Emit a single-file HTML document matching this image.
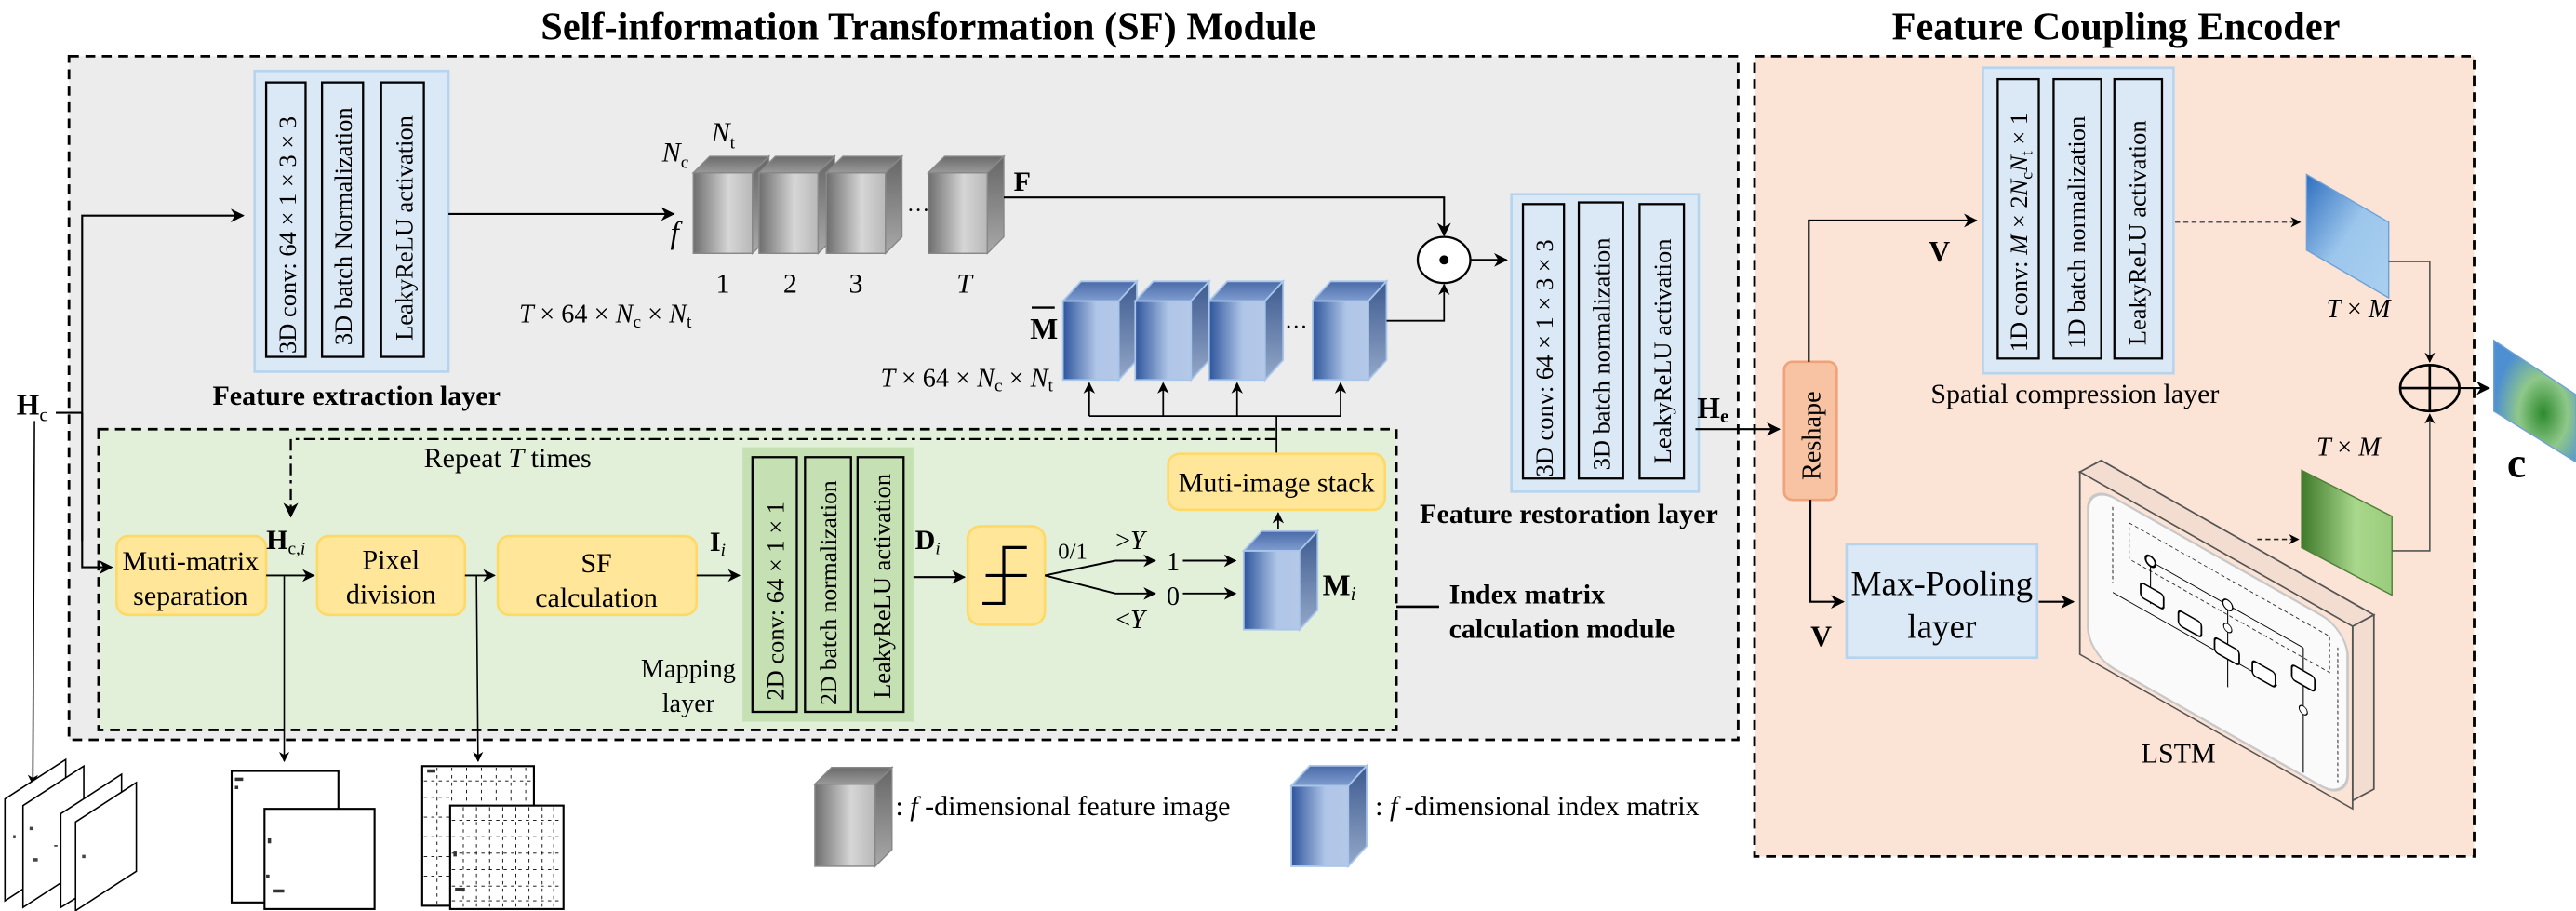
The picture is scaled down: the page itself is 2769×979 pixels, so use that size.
<!DOCTYPE html>
<html><head><meta charset="utf-8"><style>html,body{margin:0;padding:0;background:#fff;overflow:hidden}svg{display:block}text{font-family:"Liberation Serif",serif;fill:#000}</style></head><body>
<svg width="2769" height="979" viewBox="0 0 1568 554" xmlns="http://www.w3.org/2000/svg" font-family="Liberation Serif, serif">
<defs>
<marker id="ar" viewBox="0 0 10 10" refX="9" refY="5" markerWidth="7" markerHeight="7" orient="auto"><path d="M0,0 L10,5 L0,10 L3,5 z" fill="#000"/></marker>
<linearGradient id="gf" x1="0" x2="1"><stop offset="0" stop-color="#6e6e6e"/><stop offset="0.6" stop-color="#d6d6d6"/><stop offset="1" stop-color="#b8b8b8"/></linearGradient>
<linearGradient id="gt" x1="0" y1="1" x2="0" y2="0"><stop offset="0" stop-color="#9a9a9a"/><stop offset="1" stop-color="#6a6a6a"/></linearGradient>
<linearGradient id="gs" x1="0" y1="0" x2="0" y2="1"><stop offset="0" stop-color="#666"/><stop offset="1" stop-color="#a8a8a8"/></linearGradient>
<linearGradient id="bf" x1="0" x2="1"><stop offset="0" stop-color="#2e559c"/><stop offset="0.6" stop-color="#b0c6e8"/><stop offset="1" stop-color="#b4c8e8"/></linearGradient>
<linearGradient id="bt" x1="0" y1="1" x2="0" y2="0"><stop offset="0" stop-color="#7f9dcf"/><stop offset="1" stop-color="#4a6aa8"/></linearGradient>
<linearGradient id="bs" x1="0" y1="0" x2="0" y2="1"><stop offset="0" stop-color="#3d5a90"/><stop offset="1" stop-color="#94a8c8"/></linearGradient>
<linearGradient id="pb" x1="0" y1="0" x2="1" y2="1"><stop offset="0" stop-color="#2f6fbf"/><stop offset="0.5" stop-color="#9cc6ec"/><stop offset="1" stop-color="#a9d0f0"/></linearGradient>
<linearGradient id="pg" x1="0" y1="0" x2="1" y2="0"><stop offset="0" stop-color="#3f7a2a"/><stop offset="0.6" stop-color="#a9d88c"/><stop offset="1" stop-color="#9acb7c"/></linearGradient>
<radialGradient id="pc" cx="0.6" cy="0.6" r="0.6"><stop offset="0" stop-color="#2e8a2e"/><stop offset="0.5" stop-color="#8fc88a"/><stop offset="1" stop-color="#4d8fd0"/></radialGradient>
<g id="gc"><rect x="0" y="0" width="36" height="49" fill="url(#gf)" stroke="#888" stroke-width="0.8"/><polygon points="0,0 10,-10 46,-10 36,0" fill="url(#gt)" stroke="#888" stroke-width="0.8"/><polygon points="36,0 46,-10 46,39 36,49" fill="url(#gs)" stroke="#888" stroke-width="0.8"/></g>
<g id="bc"><rect x="0" y="0" width="34" height="48" fill="url(#bf)" stroke="#a9c6ea" stroke-width="1"/><polygon points="0,0 11,-12 45,-12 34,0" fill="url(#bt)" stroke="#a9c6ea" stroke-width="1"/><polygon points="34,0 45,-12 45,36 34,48" fill="url(#bs)" stroke="#a9c6ea" stroke-width="1"/></g>
</defs>

<text x="565" y="24" font-size="24" font-weight="bold" text-anchor="middle">Self-information Transformation (SF) Module</text>
<text x="1288" y="24" font-size="24" font-weight="bold" text-anchor="middle">Feature Coupling Encoder</text>

<rect x="42" y="34" width="1016" height="416" fill="#ececec" stroke="#000" stroke-width="1.6" stroke-dasharray="6,4"/>
<rect x="60" y="261" width="790" height="183" fill="#e2efd9" stroke="#000" stroke-width="1.6" stroke-dasharray="6,4"/>
<rect x="1068" y="34" width="438" height="487" fill="#fbe4d5" stroke="#000" stroke-width="1.6" stroke-dasharray="6,4"/>

<!-- Feature extraction layer -->
<rect x="155" y="43" width="118" height="183" fill="#dbe8f5" stroke="#b7d4ee" stroke-width="1.5"/>
<rect x="162" y="50" width="24" height="167" fill="#dbe8f5" stroke="#000" stroke-width="1.3"/>
<rect x="196" y="50" width="25" height="167" fill="#dbe8f5" stroke="#000" stroke-width="1.3"/>
<rect x="232" y="50" width="26" height="167" fill="#dbe8f5" stroke="#000" stroke-width="1.3"/>
<text transform="translate(180,215) rotate(-90)" font-size="15">3D conv:  64 × 1 × 3 × 3</text>
<text transform="translate(214,210) rotate(-90)" font-size="15">3D batch Normalization</text>
<text transform="translate(251,207) rotate(-90)" font-size="15">LeakyReLU activation</text>
<text x="217" y="246" font-size="17" font-weight="bold" text-anchor="middle">Feature extraction layer</text>

<text x="10" y="252" font-size="18" font-weight="bold">H<tspan font-size="12" dy="4" font-weight="normal">c</tspan></text>
<line x1="34" y1="251" x2="50" y2="251" stroke="#000" stroke-width="1.2"/>
<polyline points="50,329 50,131 148,131" fill="none" stroke="#000" stroke-width="1.2" marker-end="url(#ar)"/>
<polyline points="50,251 50,345 68,345" fill="none" stroke="#000" stroke-width="1.2" marker-end="url(#ar)"/>
<line x1="21" y1="256" x2="20" y2="477" stroke="#000" stroke-width="0.9" marker-end="url(#ar)"/>

<line x1="273" y1="130" x2="410" y2="130" stroke="#000" stroke-width="1.2" marker-end="url(#ar)"/>

<use href="#gc" x="422" y="105"/><use href="#gc" x="462" y="105"/><use href="#gc" x="503" y="105"/><use href="#gc" x="565" y="105"/>
<text x="552" y="132" font-size="14">···</text>
<text x="403" y="98" font-size="17" font-style="italic">N<tspan font-size="11" dy="4" font-style="normal">c</tspan></text>
<text x="433" y="86" font-size="17" font-style="italic">N<tspan font-size="11" dy="4" font-style="normal">t</tspan></text>
<text x="408" y="148" font-size="19" font-style="italic">f</text>
<text x="440" y="178" font-size="17" text-anchor="middle">1</text>
<text x="481" y="178" font-size="17" text-anchor="middle">2</text>
<text x="521" y="178" font-size="17" text-anchor="middle">3</text>
<text x="587" y="178" font-size="17" text-anchor="middle" font-style="italic">T</text>
<text x="316" y="196" font-size="16" font-style="italic">T <tspan font-style="normal">× 64 ×</tspan> N<tspan font-size="11" dy="3" font-style="normal">c</tspan><tspan dy="-3" font-style="normal"> × </tspan>N<tspan font-size="11" dy="3" font-style="normal">t</tspan></text>
<text x="617" y="116" font-size="17" font-weight="bold">F</text>
<polyline points="611,120 879,120 879,143" fill="none" stroke="#000" stroke-width="1.2" marker-end="url(#ar)"/>
<ellipse cx="879" cy="158" rx="16" ry="14" fill="#fff" stroke="#000" stroke-width="1.3"/>
<circle cx="879" cy="158" r="2.8" fill="#000"/>
<line x1="895" y1="158" x2="917" y2="158" stroke="#000" stroke-width="1.2" marker-end="url(#ar)"/>

<use href="#bc" x="647" y="183"/><use href="#bc" x="691" y="183"/><use href="#bc" x="736" y="183"/><use href="#bc" x="799" y="183"/>
<text x="782" y="203" font-size="14">···</text>
<text x="627" y="206" font-size="18" font-weight="bold">M</text><line x1="628" y1="187" x2="642" y2="187" stroke="#000" stroke-width="1.3"/>
<text x="536" y="235" font-size="16" font-style="italic">T <tspan font-style="normal">× 64 ×</tspan> N<tspan font-size="11" dy="3" font-style="normal">c</tspan><tspan dy="-3" font-style="normal"> × </tspan>N<tspan font-size="11" dy="3" font-style="normal">t</tspan></text>
<polyline points="844,195 879,195 879,173" fill="none" stroke="#000" stroke-width="1" marker-end="url(#ar)"/>
<polyline points="663,253 816,253" fill="none" stroke="#000" stroke-width="1"/>
<line x1="663" y1="253" x2="663" y2="233" stroke="#000" stroke-width="1" marker-end="url(#ar)"/>
<line x1="708" y1="253" x2="708" y2="233" stroke="#000" stroke-width="1" marker-end="url(#ar)"/>
<line x1="753" y1="253" x2="753" y2="233" stroke="#000" stroke-width="1" marker-end="url(#ar)"/>
<line x1="816" y1="253" x2="816" y2="233" stroke="#000" stroke-width="1" marker-end="url(#ar)"/>
<line x1="777" y1="253" x2="777" y2="276" stroke="#000" stroke-width="1"/>

<polyline points="777,267 177,267 177,314" fill="none" stroke="#000" stroke-width="1.3" stroke-dasharray="7,3,2,3" marker-end="url(#ar)"/>
<text x="258" y="284" font-size="17">Repeat <tspan font-style="italic">T</tspan> times</text>

<rect x="71" y="326" width="91" height="48" rx="7" fill="#ffe699" stroke="#ffd966" stroke-width="1.5"/>
<text x="116" y="347" font-size="17" text-anchor="middle">Muti-matrix</text>
<text x="116" y="368" font-size="17" text-anchor="middle">separation</text>
<rect x="193" y="326" width="90" height="48" rx="7" fill="#ffe699" stroke="#ffd966" stroke-width="1.5"/>
<text x="238" y="346" font-size="17" text-anchor="middle">Pixel</text>
<text x="238" y="367" font-size="17" text-anchor="middle">division</text>
<rect x="303" y="326" width="121" height="48" rx="7" fill="#ffe699" stroke="#ffd966" stroke-width="1.5"/>
<text x="363" y="348" font-size="17" text-anchor="middle">SF</text>
<text x="363" y="369" font-size="17" text-anchor="middle">calculation</text>
<text x="162" y="334" font-size="17" font-weight="bold">H<tspan font-size="11" dy="3" font-weight="normal">c,</tspan><tspan font-size="11" font-style="italic" font-weight="normal">i</tspan></text>
<line x1="162" y1="350" x2="191" y2="350" stroke="#000" stroke-width="1.1" marker-end="url(#ar)"/>
<line x1="283" y1="350" x2="301" y2="350" stroke="#000" stroke-width="1.1" marker-end="url(#ar)"/>
<line x1="424" y1="350" x2="450" y2="350" stroke="#000" stroke-width="1.1" marker-end="url(#ar)"/>
<text x="432" y="335" font-size="17" font-weight="bold">I<tspan font-size="11" dy="3" font-style="italic" font-weight="normal">i</tspan></text>
<line x1="173" y1="350" x2="173" y2="463" stroke="#000" stroke-width="0.9" marker-end="url(#ar)"/>
<line x1="290" y1="350" x2="291" y2="463" stroke="#000" stroke-width="0.9" marker-end="url(#ar)"/>

<rect x="452" y="272" width="104" height="167" fill="#c5e0b3"/>
<rect x="458" y="278" width="27" height="155" fill="#c5e0b3" stroke="#000" stroke-width="1.3"/>
<rect x="490" y="278" width="28" height="155" fill="#c5e0b3" stroke="#000" stroke-width="1.3"/>
<rect x="522" y="278" width="28" height="155" fill="#c5e0b3" stroke="#000" stroke-width="1.3"/>
<text transform="translate(477,426) rotate(-90)" font-size="15">2D conv:  64 × 1 × 1</text>
<text transform="translate(509,429) rotate(-90)" font-size="14.5">2D batch normalization</text>
<text transform="translate(542,425) rotate(-90)" font-size="15">LeakyReLU activation</text>
<text x="419" y="412" font-size="16" text-anchor="middle">Mapping</text>
<text x="419" y="433" font-size="16" text-anchor="middle">layer</text>
<text x="557" y="334" font-size="17" font-weight="bold">D<tspan font-size="11" dy="3" font-style="italic" font-weight="normal">i</tspan></text>
<line x1="556" y1="351" x2="587" y2="351" stroke="#000" stroke-width="1.2" marker-end="url(#ar)"/>

<rect x="589" y="320" width="47" height="60" rx="8" fill="#ffe699" stroke="#ffd966" stroke-width="1.5"/>
<polyline points="598,367 611,367 611,333 625,333" fill="none" stroke="#000" stroke-width="1.8"/>
<line x1="600" y1="350" x2="625" y2="350" stroke="#000" stroke-width="1.8"/>
<polyline points="636,350 679,341 703,341" fill="none" stroke="#000" stroke-width="1.1" marker-end="url(#ar)"/>
<polyline points="636,350 679,361 703,361" fill="none" stroke="#000" stroke-width="1.1" marker-end="url(#ar)"/>
<text x="644" y="340" font-size="14">0/1</text>
<text x="679" y="334" font-size="16">&gt;<tspan font-style="italic">Y</tspan></text>
<text x="679" y="382" font-size="16">&lt;<tspan font-style="italic">Y</tspan></text>
<text x="710" y="347" font-size="16">1</text>
<text x="710" y="368" font-size="16">0</text>
<line x1="720" y1="341" x2="752" y2="341" stroke="#000" stroke-width="1.1" marker-end="url(#ar)"/>
<line x1="720" y1="361" x2="752" y2="361" stroke="#000" stroke-width="1.1" marker-end="url(#ar)"/>
<use href="#bc" x="757" y="335"/>
<text x="805" y="362" font-size="18" font-weight="bold">M<tspan font-size="12" dy="3" font-style="italic" font-weight="normal">i</tspan></text>
<line x1="778" y1="322" x2="778" y2="312" stroke="#000" stroke-width="1" marker-end="url(#ar)"/>
<rect x="711" y="276" width="132" height="34" rx="7" fill="#ffe699" stroke="#ffd966" stroke-width="1.5"/>
<text x="777" y="299" font-size="17" text-anchor="middle">Muti-image stack</text>

<line x1="850" y1="369" x2="876" y2="369" stroke="#000" stroke-width="1.5"/>
<text x="882" y="367" font-size="17" font-weight="bold">Index matrix</text>
<text x="882" y="388" font-size="17" font-weight="bold">calculation module</text>

<rect x="920" y="118" width="114" height="181" fill="#dbe8f5" stroke="#b7d4ee" stroke-width="1.5"/>
<rect x="927" y="124" width="25" height="167" fill="#dbe8f5" stroke="#000" stroke-width="1.3"/>
<rect x="961" y="123" width="27" height="168" fill="#dbe8f5" stroke="#000" stroke-width="1.3"/>
<rect x="998" y="124" width="27" height="167" fill="#dbe8f5" stroke="#000" stroke-width="1.3"/>
<text transform="translate(945,290) rotate(-90)" font-size="15">3D conv:  64 × 1 × 3 × 3</text>
<text transform="translate(980,286) rotate(-90)" font-size="15">3D batch normalization</text>
<text transform="translate(1017,282) rotate(-90)" font-size="15">LeakyReLU activation</text>
<text x="955" y="318" font-size="17" font-weight="bold" text-anchor="middle">Feature restoration layer</text>
<text x="1033" y="254" font-size="18" font-weight="bold">H<tspan font-size="12" dy="3">e</tspan></text>
<line x1="1032" y1="261" x2="1083" y2="261" stroke="#000" stroke-width="1.2" marker-end="url(#ar)"/>

<rect x="1086" y="220" width="32" height="84" rx="5" fill="#f7c3a2" stroke="#f0a27a" stroke-width="1.5"/>
<text transform="translate(1108,292) rotate(-90)" font-size="16">Reshape</text>
<polyline points="1101,220 1101,134 1203,134" fill="none" stroke="#000" stroke-width="1.2" marker-end="url(#ar)"/>
<text x="1174" y="159" font-size="18" font-weight="bold">V</text>
<polyline points="1102,304 1102,366 1122,366" fill="none" stroke="#000" stroke-width="1.2" marker-end="url(#ar)"/>
<text x="1102" y="393" font-size="18" font-weight="bold">V</text>

<rect x="1207" y="41" width="116" height="186" fill="#dbe8f5" stroke="#b7d4ee" stroke-width="1.5"/>
<rect x="1216" y="48" width="25" height="170" fill="#dbe8f5" stroke="#000" stroke-width="1.3"/>
<rect x="1250" y="48" width="29" height="170" fill="#dbe8f5" stroke="#000" stroke-width="1.3"/>
<rect x="1287" y="48" width="29" height="170" fill="#dbe8f5" stroke="#000" stroke-width="1.3"/>
<text transform="translate(1234,214) rotate(-90)" font-size="15">1D conv:  <tspan font-style="italic">M</tspan> × 2<tspan font-style="italic">N</tspan><tspan font-size="10" dy="3">c</tspan><tspan font-style="italic" dy="-3">N</tspan><tspan font-size="10" dy="3">t</tspan><tspan dy="-3"> × 1</tspan></text>
<text transform="translate(1269,212) rotate(-90)" font-size="15">1D batch normalization</text>
<text transform="translate(1306,210) rotate(-90)" font-size="15">LeakyReLU activation</text>
<text x="1263" y="245" font-size="17" text-anchor="middle">Spatial compression layer</text>
<line x1="1324" y1="135" x2="1400" y2="135" stroke="#555" stroke-width="0.9" stroke-dasharray="3,2" marker-end="url(#ar)"/>
<polygon points="1404,106 1454,135 1454,181 1404,152" fill="url(#pb)" stroke="#6fa0d8" stroke-width="0.8"/>
<text x="1416" y="193" font-size="16" font-style="italic">T <tspan font-style="normal">×</tspan> M</text>
<polyline points="1454,159 1479,159 1479,220" fill="none" stroke="#555" stroke-width="0.9" marker-end="url(#ar)"/>
<ellipse cx="1479" cy="236" rx="18" ry="14" fill="none" stroke="#000" stroke-width="1.5"/>
<line x1="1461" y1="236" x2="1497" y2="236" stroke="#000" stroke-width="1.5"/>
<line x1="1479" y1="222" x2="1479" y2="250" stroke="#000" stroke-width="1.5"/>
<line x1="1497" y1="236" x2="1515" y2="236" stroke="#000" stroke-width="1.2" marker-end="url(#ar)"/>
<polygon points="1518,207 1568,240 1568,281 1518,250" fill="url(#pc)" stroke="#6fa0d8" stroke-width="0.8"/>
<text x="1526" y="290" font-size="26" font-weight="bold">c</text>

<rect x="1124" y="331" width="116" height="69" fill="#dbe8f5" stroke="#b7d4ee" stroke-width="1.5"/>
<text x="1182" y="362" font-size="21" text-anchor="middle">Max-Pooling</text>
<text x="1182" y="388" font-size="21" text-anchor="middle">layer</text>
<line x1="1241" y1="366" x2="1262" y2="366" stroke="#000" stroke-width="1.2" marker-end="url(#ar)"/>

<polygon points="1266,287 1279,280 1445,374 1432,381" fill="#f3ddd0" stroke="#555" stroke-width="1"/>
<polygon points="1432,381 1445,374 1445,480 1432,487" fill="#f3ddd0" stroke="#555" stroke-width="1"/>
<g transform="matrix(1,0.566,0,1,1266,287)">
<rect x="0" y="0" width="166" height="111" fill="#fbe4d5" stroke="#555" stroke-width="1"/>
<rect x="5" y="4" width="158" height="104" rx="16" fill="#fafafa" stroke="#c8c8c8" stroke-width="1.5"/>
<rect x="30" y="14" width="122" height="22" fill="none" stroke="#333" stroke-width="0.6" stroke-dasharray="2,1.5"/>
<line x1="20" y1="10" x2="20" y2="56" stroke="#333" stroke-width="0.6" stroke-dasharray="2,1.5"/>
<line x1="157" y1="18" x2="157" y2="100" stroke="#333" stroke-width="0.6" stroke-dasharray="2,1.5"/>
<circle cx="43" cy="30" r="3" fill="#fff" stroke="#000" stroke-width="1.2"/>
<line x1="46" y1="30" x2="136" y2="30" stroke="#000" stroke-width="0.6"/>
<circle cx="90" cy="30" r="3" fill="#fff" stroke="#000" stroke-width="0.8"/>
<line x1="43" y1="33" x2="43" y2="56" stroke="#000" stroke-width="0.6"/>
<line x1="90" y1="33" x2="90" y2="80" stroke="#000" stroke-width="0.6"/>
<line x1="136" y1="30" x2="136" y2="106" stroke="#000" stroke-width="0.6"/>
<line x1="20" y1="62" x2="120" y2="62" stroke="#000" stroke-width="0.6"/>
<rect x="37" y="46" width="14" height="9" rx="2" fill="#fff" stroke="#000" stroke-width="1"/>
<rect x="60" y="50" width="14" height="9" rx="2" fill="#fff" stroke="#000" stroke-width="1"/>
<rect x="82" y="54" width="15" height="9" rx="2" fill="#fff" stroke="#000" stroke-width="1"/>
<rect x="105" y="55" width="14" height="9" rx="2" fill="#fff" stroke="#000" stroke-width="1"/>
<rect x="129" y="44" width="14" height="9" rx="2" fill="#fff" stroke="#000" stroke-width="1"/>
<circle cx="90" cy="44" r="2.5" fill="#fff" stroke="#000" stroke-width="0.6"/>
<circle cx="136" cy="68" r="2.5" fill="#fff" stroke="#000" stroke-width="0.6"/>
</g>
<text x="1326" y="464" font-size="17" text-anchor="middle">LSTM</text>
<line x1="1374" y1="328" x2="1399" y2="328" stroke="#222" stroke-width="0.9" stroke-dasharray="3,2" marker-end="url(#ar)"/>
<polygon points="1401,286 1456,314 1456,362 1401,333" fill="url(#pg)" stroke="#4f7f3a" stroke-width="0.8"/>
<text x="1410" y="277" font-size="16" font-style="italic">T <tspan font-style="normal">×</tspan> M</text>
<polyline points="1456,335 1479,335 1479,252" fill="none" stroke="#555" stroke-width="0.9" marker-end="url(#ar)"/>

<g transform="translate(496,477) scale(1.02)"><use href="#gc" x="0" y="0"/></g>
<text x="545" y="496" font-size="17">: <tspan font-style="italic">f</tspan> -dimensional feature image</text>
<g transform="translate(786,478) scale(1.02)"><use href="#bc" x="0" y="0"/></g>
<text x="837" y="496" font-size="17">: <tspan font-style="italic">f</tspan> -dimensional index matrix</text>

<g fill="#fff" stroke="#000" stroke-width="0.9">
<polygon points="3,486 40,462 40,524 3,548"/>
<polygon points="14,490 51,466 51,528 14,552"/>
<polygon points="37,495 74,471 74,529 37,552"/>
<polygon points="46,500 83,476 83,530 46,554"/>
</g>
<g fill="#444"><rect x="8" y="508" width="1.5" height="2"/><rect x="18" y="503" width="2" height="2"/><rect x="20" y="522" width="3" height="2"/><rect x="50" y="520" width="2" height="2"/><rect x="33" y="514" width="2" height="1"/></g>
<rect x="141" y="469" width="65" height="80" fill="#fff" stroke="#000" stroke-width="1.2"/>
<rect x="161" y="492" width="67" height="61" fill="#fff" stroke="#000" stroke-width="1.2"/>
<g fill="#333"><rect x="143" y="473" width="5" height="2"/><rect x="163" y="510" width="2" height="3"/><rect x="166" y="541" width="7" height="2"/><rect x="162" y="532" width="2" height="2"/><rect x="143" y="478" width="2" height="2"/></g>
<rect x="257" y="466" width="68" height="85" fill="#fff" stroke="#000" stroke-width="1.2"/>
<rect x="274" y="490" width="69" height="63" fill="#fff" stroke="#000" stroke-width="1.2"/>
<g stroke="#000" stroke-width="0.5" stroke-dasharray="2,2.5">
<line x1="258" y1="475" x2="324" y2="475"/><line x1="258" y1="485" x2="274" y2="485"/><line x1="258" y1="497" x2="274" y2="497"/><line x1="258" y1="509" x2="274" y2="509"/><line x1="258" y1="521" x2="274" y2="521"/><line x1="258" y1="533" x2="274" y2="533"/>
<line x1="266" y1="467" x2="266" y2="550"/><line x1="275" y1="467" x2="275" y2="489"/><line x1="284" y1="467" x2="284" y2="489"/><line x1="293" y1="467" x2="293" y2="489"/><line x1="302" y1="467" x2="302" y2="489"/><line x1="311" y1="467" x2="311" y2="489"/><line x1="320" y1="467" x2="320" y2="489"/>
<line x1="275" y1="499" x2="342" y2="499"/><line x1="275" y1="509" x2="342" y2="509"/><line x1="275" y1="519" x2="342" y2="519"/><line x1="275" y1="529" x2="342" y2="529"/><line x1="275" y1="539" x2="342" y2="539"/><line x1="275" y1="548" x2="342" y2="548"/>
<line x1="282" y1="491" x2="282" y2="552"/><line x1="290" y1="491" x2="290" y2="552"/><line x1="298" y1="491" x2="298" y2="552"/><line x1="306" y1="491" x2="306" y2="552"/><line x1="314" y1="491" x2="314" y2="552"/><line x1="322" y1="491" x2="322" y2="552"/><line x1="330" y1="491" x2="330" y2="552"/><line x1="337" y1="491" x2="337" y2="552"/>
</g>
<g fill="#333"><rect x="260" y="468" width="5" height="2"/><rect x="277" y="540" width="6" height="2"/><rect x="276" y="518" width="2" height="3"/></g>
</svg>
</body></html>
